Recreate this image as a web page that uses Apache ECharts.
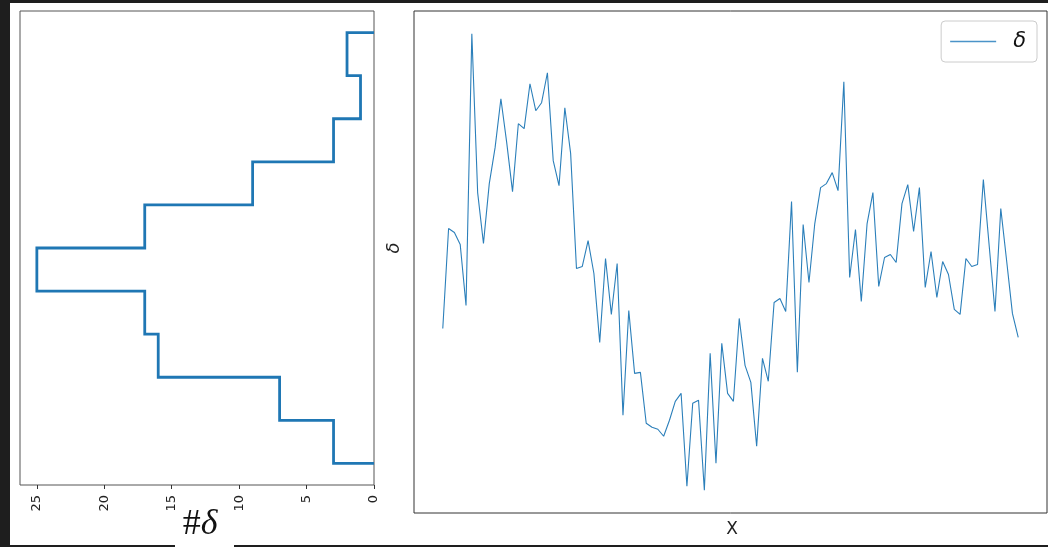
<!DOCTYPE html>
<html>
<head>
<meta charset="utf-8">
<script src="https://cdn.jsdelivr.net/npm/echarts@6/dist/echarts.min.js"></script>
<style>
  html, body { margin: 0; padding: 0; background: #ffffff; }
  #chart { width: 1048px; height: 547px; }
</style>
</head>
<body>
<div id="chart"></div>
<script>
// δ sampled at 100 consecutive steps
const deltaValues = [
  -0.67, 0.33, 0.29, 0.17, -0.44, 2.28, 0.69, 0.18, 0.78, 1.14,
   1.63, 1.19, 0.70, 1.38, 1.33, 1.78, 1.51, 1.59, 1.89, 1.01,
   0.76, 1.54, 1.08, -0.07, -0.05, 0.21, -0.12, -0.81, 0.03, -0.53,
  -0.02, -1.54, -0.49, -1.12, -1.11, -1.62, -1.66, -1.68, -1.75, -1.59,
  -1.40, -1.32, -2.25, -1.42, -1.39, -2.29, -0.92, -2.02, -0.82, -1.32,
  -1.40, -0.57, -1.04, -1.21, -1.85, -0.97, -1.20, -0.41, -0.37, -0.50,
   0.60, -1.11, 0.37, -0.21, 0.38, 0.74, 0.78, 0.89, 0.71, 1.80,
  -0.16, 0.32, -0.40, 0.38, 0.69, -0.25, 0.04, 0.07, -0.01, 0.58,
   0.77, 0.30, 0.74, -0.26, 0.10, -0.36, 0.00, -0.13, -0.48, -0.53,
   0.03, -0.05, -0.03, 0.82, 0.16, -0.50, 0.53, 0.01, -0.52, -0.76
];

// Histogram counts per bin, lowest δ bin first
const histCounts = [3, 7, 16, 17, 25, 17, 9, 3, 1, 2];

// Tick labels of the count axis
const countTicks = [0, 5, 10, 15, 20, 25];

const BLUE = '#1f77b4';
const lo = Math.min(...deltaValues);
const hi = Math.max(...deltaValues);
const pad = (hi - lo) * 0.05;
const nBins = histCounts.length;
const binEdges = Array.from({ length: nBins + 1 }, (_, k) => lo + (hi - lo) * k / nBins);

// Step outline of the horizontal histogram: (count, δ) pairs
const outline = [[0, binEdges[0]]];
histCounts.forEach((c, k) => {
  outline.push([c, binEdges[k]], [c, binEdges[k + 1]]);
});
outline.push([0, binEdges[nBins]]);

const linePoints = deltaValues.map((v, i) => [i, v]);
const nPts = deltaValues.length;

const chart = echarts.init(document.getElementById('chart'), null, { renderer: 'canvas' });

chart.setOption({
  animation: false,
  backgroundColor: '#ffffff',
  grid: [
    { left: 20, top: 11, width: 354, height: 474, show: true, borderColor: '#555', borderWidth: 1, backgroundColor: '#fff' },
    { left: 414, top: 11, width: 633, height: 502, show: true, borderColor: '#333', borderWidth: 1, backgroundColor: '#fff' }
  ],
  xAxis: [
    {
      gridIndex: 0, type: 'value', inverse: true, position: 'bottom',
      min: 0, max: Math.max(...histCounts) * 1.05,
      splitLine: { show: false },
      axisLine: { show: false, onZero: false },
      axisTick: { show: true, length: 4, customValues: countTicks, lineStyle: { color: '#333', width: 1 } },
      axisLabel: {
        show: true, rotate: 90, margin: 10, customValues: countTicks,
        fontFamily: 'DejaVu Sans', fontSize: 13, color: '#222'
      }
    },
    {
      gridIndex: 1, type: 'value', position: 'bottom',
      min: -(nPts - 1) * 0.05, max: (nPts - 1) * 1.05,
      splitLine: { show: false }, axisLine: { show: false, onZero: false },
      axisTick: { show: false }, axisLabel: { show: false }
    }
  ],
  yAxis: [
    {
      gridIndex: 0, type: 'value', min: lo - pad, max: hi + pad,
      splitLine: { show: false }, axisLine: { show: false, onZero: false },
      axisTick: { show: false }, axisLabel: { show: false }
    },
    {
      gridIndex: 1, type: 'value', min: lo - pad, max: hi + pad,
      splitLine: { show: false }, axisLine: { show: false, onZero: false },
      axisTick: { show: false }, axisLabel: { show: false }
    }
  ],
  legend: {
    data: [{ name: 'δ', icon: 'rect' }],
    right: 11, top: 21,
    orient: 'horizontal',
    itemWidth: 46, itemHeight: 1.3,
    padding: [10, 11, 10, 9],
    backgroundColor: 'rgba(255,255,255,0.8)',
    borderColor: '#cccccc', borderWidth: 1, borderRadius: 4,
    textStyle: {
      fontFamily: 'DejaVu Sans', fontStyle: 'italic', fontSize: 21,
      color: '#111', padding: [0, 0, 0, 12]
    }
  },
  series: [
    {
      name: 'histogram', type: 'line', xAxisIndex: 0, yAxisIndex: 0,
      data: outline, symbol: 'none', silent: true,
      lineStyle: { color: BLUE, width: 2.8, join: 'miter' },
      itemStyle: { color: BLUE }
    },
    {
      name: 'δ', type: 'line', xAxisIndex: 1, yAxisIndex: 1,
      data: linePoints, symbol: 'none',
      lineStyle: { color: '#2b7fba', width: 1.1 },
      itemStyle: { color: '#4a93c8' }
    }
  ],
  graphic: [
    // dark surround
    { type: 'rect', left: 0, top: 0, shape: { width: 10, height: 547 }, style: { fill: '#1e1e1e' }, silent: true },
    { type: 'rect', left: 0, top: 0, shape: { width: 1048, height: 3 }, style: { fill: '#1e1e1e' }, silent: true },
    { type: 'rect', left: 0, top: 545, shape: { width: 175, height: 2 }, style: { fill: '#1e1e1e' }, silent: true },
    { type: 'rect', left: 234, top: 545, shape: { width: 814, height: 2 }, style: { fill: '#1e1e1e' }, silent: true },
    // axis titles
    {
      type: 'text', x: 200, y: 525, silent: true,
      style: {
        text: '{a|#}{b|δ}', align: 'center', verticalAlign: 'middle',
        rich: {
          a: { fontFamily: 'Liberation Serif', fontSize: 36, fill: '#111' },
          b: { fontFamily: 'Liberation Serif', fontStyle: 'italic', fontSize: 36, fill: '#111' }
        }
      }
    },
    {
      type: 'text', x: 732, y: 530, silent: true,
      style: { text: 'X', fontFamily: 'DejaVu Sans', fontSize: 17, fill: '#222', align: 'center', verticalAlign: 'middle' }
    },
    {
      type: 'text', x: 394, y: 248, rotation: Math.PI / 2, silent: true,
      style: { text: 'δ', fontFamily: 'DejaVu Sans', fontStyle: 'italic', fontSize: 18, fill: '#222', align: 'center', verticalAlign: 'middle' }
    }
  ]
});
</script>
</body>
</html>
